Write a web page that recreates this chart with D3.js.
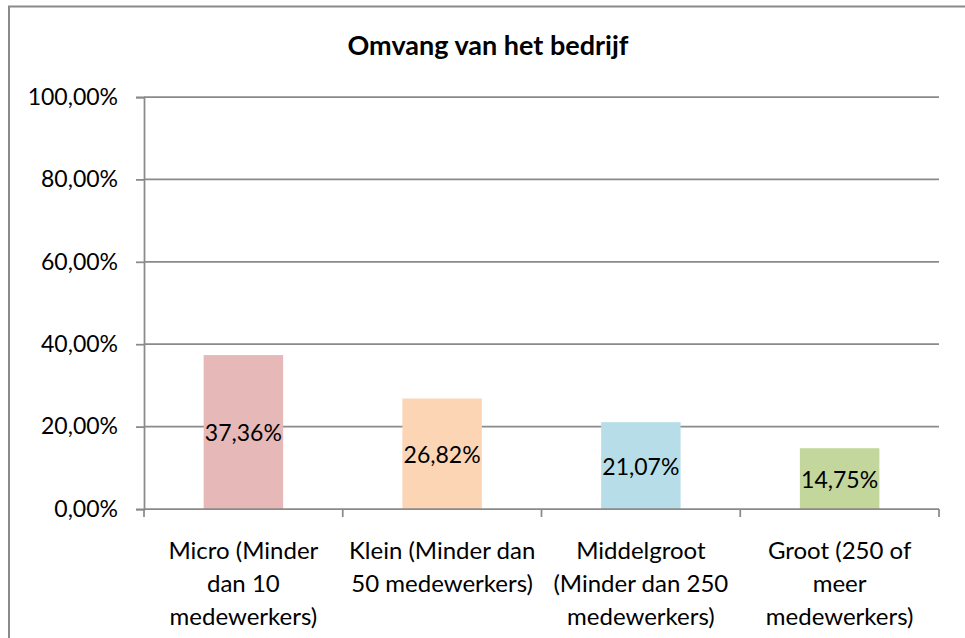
<!DOCTYPE html>
<html>
<head>
<meta charset="utf-8">
<script src="https://cdn.jsdelivr.net/npm/d3@7"></script>
<style>
  html, body { margin: 0; padding: 0; background: #fff; }
  svg { display: block; }
  text { font-family: Lato, "Open Sans", sans-serif; fill: #000; }
</style>
</head>
<body>
<svg id="chart" width="965" height="638"></svg>
<script>
// Company size distribution
const title = "Omvang van het bedrijf";
const categories = [
  "Micro (Minder dan 10 medewerkers)",
  "Klein (Minder dan 50 medewerkers)",
  "Middelgroot (Minder dan 250 medewerkers)",
  "Groot (250 of meer medewerkers)"
];
const categoryLines = [
  ["Micro (Minder", "dan 10", "medewerkers)"],
  ["Klein (Minder dan", "50 medewerkers)"],
  ["Middelgroot", "(Minder dan 250", "medewerkers)"],
  ["Groot (250 of", "meer", "medewerkers)"]
];
const values = [37.36, 26.82, 21.07, 14.75];
const barColors = ["#E6B9B8", "#FCD5B5", "#B7DEE8", "#C3D69B"];
const yTicks = [0, 20, 40, 60, 80, 100];

const svg = d3.select("#chart");
const margin = { left: 144, right: 26, top: 97, bottom: 129 };
const W = 965, H = 638;
const x0 = margin.left, x1 = W - margin.right;
const yTop = margin.top, yBase = H - margin.bottom;

const pct = v => v.toFixed(2).replace(".", ",") + "%";

// outer chart frame (extends past the right/bottom edge)
svg.append("rect")
  .attr("x", 9).attr("y", 6.5)
  .attr("width", 970).attr("height", 660)
  .attr("fill", "none")
  .attr("stroke", "#8a8a8a")
  .attr("stroke-width", 2);

svg.append("text")
  .attr("x", 488).attr("y", 55)
  .attr("text-anchor", "middle")
  .attr("font-weight", "bold")
  .attr("font-size", 27)
  .text(title);

const x = d3.scaleBand()
  .domain(categories)
  .range([x0, x1])
  .paddingInner(0.6)
  .paddingOuter(0.3);

const y = d3.scaleLinear().domain([0, 100]).range([yBase, yTop]);

const axisColor = "#8a8a8a";

// horizontal gridlines
svg.append("g")
  .selectAll("line")
  .data(yTicks.filter(t => t > 0))
  .join("line")
  .attr("x1", x0).attr("x2", x1)
  .attr("y1", d => y(d)).attr("y2", d => y(d))
  .attr("stroke", axisColor)
  .attr("stroke-width", 1.75);

// bars
svg.append("g")
  .selectAll("rect")
  .data(values)
  .join("rect")
  .attr("x", (d, i) => x(categories[i]))
  .attr("width", x.bandwidth())
  .attr("y", d => y(d))
  .attr("height", d => yBase - y(d))
  .attr("fill", (d, i) => barColors[i]);

// value labels centred in bars
svg.append("g")
  .selectAll("text")
  .data(values)
  .join("text")
  .attr("x", (d, i) => x(categories[i]) + x.bandwidth() / 2)
  .attr("y", d => (y(d) + yBase) / 2)
  .attr("text-anchor", "middle")
  .attr("dominant-baseline", "central")
  .attr("font-size", 23)
  .text(d => pct(d));

// y axis
const yAxis = svg.append("g")
  .attr("transform", `translate(${x0},0)`)
  .call(d3.axisLeft(y).tickValues(yTicks).tickSize(8).tickPadding(18)
    .tickFormat(d => pct(d)));
yAxis.select(".domain").attr("stroke", axisColor).attr("stroke-width", 1.75);
yAxis.selectAll(".tick line").attr("stroke", axisColor).attr("stroke-width", 1.75);
yAxis.selectAll(".tick text")
  .attr("font-size", 23)
  .attr("font-family", "Lato, sans-serif")
  .attr("fill", "#000");

// x axis: baseline and category boundary ticks
const boundaries = categories.map((c, i) => x0 + i * x.step());
boundaries.push(x1);
svg.append("line")
  .attr("x1", x0).attr("x2", x1)
  .attr("y1", yBase).attr("y2", yBase)
  .attr("stroke", axisColor).attr("stroke-width", 1.75);
svg.append("g")
  .selectAll("line")
  .data(boundaries)
  .join("line")
  .attr("x1", d => d).attr("x2", d => d)
  .attr("y1", yBase).attr("y2", yBase + 8)
  .attr("stroke", axisColor).attr("stroke-width", 1.75);

// wrapped category labels
const catG = svg.append("g")
  .selectAll("text")
  .data(categories)
  .join("text")
  .attr("x", d => x(d) + x.bandwidth() / 2)
  .attr("y", 549)
  .attr("text-anchor", "middle")
  .attr("font-size", 24);
catG.each(function(d, i) {
  d3.select(this).selectAll("tspan")
    .data(categoryLines[i])
    .join("tspan")
    .attr("x", x(d) + x.bandwidth() / 2)
    .attr("y", (l, j) => 549 + j * 33)
    .attr("dominant-baseline", "central")
    .text(l => l);
});
</script>
</body>
</html>
